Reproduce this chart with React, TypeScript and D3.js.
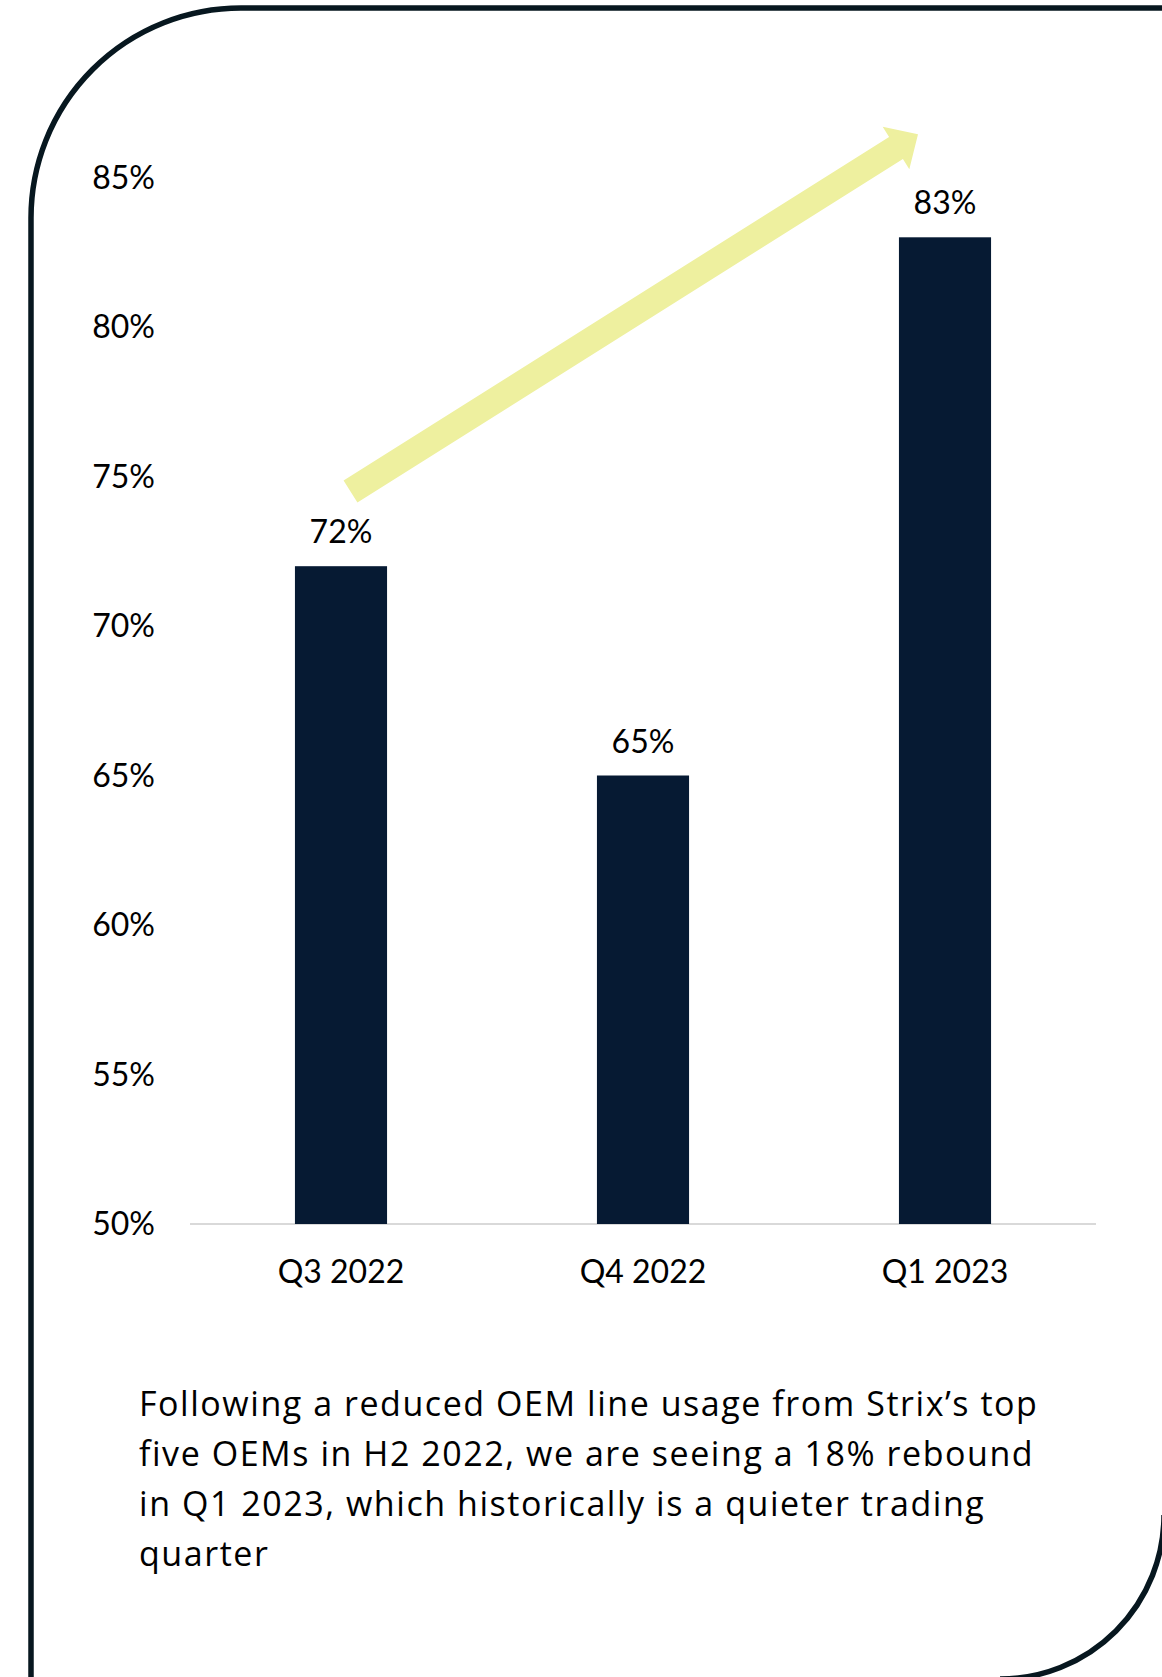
import React from 'react';
import * as d3 from 'd3';

const categories = ['Q3 2022', 'Q4 2022', 'Q1 2023'];
const values = [72, 65, 83];
const yTicks = [50, 55, 60, 65, 70, 75, 80, 85];
const captionLines = [
  'Following a reduced OEM line usage from Strix\u2019s top',
  'five OEMs in H2 2022, we are seeing a 18% rebound',
  'in Q1 2023, which historically is a quieter trading',
  'quarter',
];
// trend arrow annotation: from Q3 2022 to Q1 2023 (value-space anchors)
const arrowFrom = { cat: 'Q3 2022', dx: 9.5, value: 74.5 };
const arrowTo = { cat: 'Q1 2023', dx: -27, value: 86.45 };

const FONT = 'Lato, "Open Sans", sans-serif';
const CAPTION_FONT = '"Open Sans", Lato, sans-serif';

export default function App() {
  const W = 1162;
  const H = 1677;
  const x = d3.scaleBand<string>().domain(categories).range([190, 1096]).padding(0);
  const y = d3.scaleLinear().domain([50, 85]).range([1224, 177.5]);
  const barW = x.bandwidth() * 0.305;
  const cx = (c: string) => (x(c) as number) + x.bandwidth() / 2;

  // arrow geometry
  const T = [cx(arrowFrom.cat) + arrowFrom.dx, y(arrowFrom.value)];
  const P = [cx(arrowTo.cat) + arrowTo.dx, y(arrowTo.value)];
  const len = Math.hypot(P[0] - T[0], P[1] - T[1]);
  const u = [(P[0] - T[0]) / len, (P[1] - T[1]) / len];
  const n = [-u[1], u[0]];
  const sw = 13, hw = 25, hl = 26;
  const B = [P[0] - u[0] * hl, P[1] - u[1] * hl];
  const pt = (b: number[], k: number) => [b[0] + n[0] * k, b[1] + n[1] * k];
  const arrowPts = [pt(T, sw), pt(B, sw), pt(B, hw), P, pt(B, -hw), pt(B, -sw), pt(T, -sw)];
  const arrowPath = d3.line()(arrowPts as [number, number][]) + 'Z';

  const r1 = 210;
  const L = 31, Tp = 8;
  const borderTL = `M${L},${H + 20} L${L},${Tp + r1} A${r1},${r1} 0 0 1 ${L + r1},${Tp} L${W + 20},${Tp}`;
  const r2 = 164;
  const c2 = [1000, 1515];
  const borderBR = `M${c2[0] + r2},${c2[1]} A${r2},${r2} 0 0 1 ${c2[0]},${c2[1] + r2}`;

  return (
    <svg
      width={W}
      height={H}
      viewBox={`0 0 ${W} ${H}`}
      style={{ position: 'absolute', left: 0, top: 0, background: '#fff' }}
    >
      <rect width={W} height={H} fill="#fff" />
      <path d={borderTL} fill="none" stroke="#07171f" strokeWidth={5.5} />
      <path d={borderBR} fill="none" stroke="#07171f" strokeWidth={5.5} />

      {/* y tick labels */}
      {yTicks.map((t) => (
        <text
          key={t}
          x={155}
          y={y(t) + 11}
          textAnchor="end"
          fontFamily={FONT}
          fontSize={32}
          fill="#000"
        >
          {`${t}%`}
        </text>
      ))}

      {/* baseline */}
      <line x1={190} x2={1096} y1={y(50)} y2={y(50)} stroke="#d9d9d9" strokeWidth={2} />

      {/* bars */}
      {categories.map((c, i) => (
        <g key={c}>
          <rect
            x={cx(c) - barW / 2}
            y={y(values[i])}
            width={barW}
            height={y(50) - y(values[i])}
            fill="#061a33"
          />
          <text
            x={cx(c)}
            y={y(values[i]) - 23}
            textAnchor="middle"
            fontFamily={FONT}
            fontSize={32}
            fill="#000"
          >
            {`${values[i]}%`}
          </text>
          <text
            x={cx(c)}
            y={y(50) + 59}
            textAnchor="middle"
            fontFamily={FONT}
            fontSize={32}
            fill="#000"
          >
            {c}
          </text>
        </g>
      ))}

      {/* trend arrow */}
      <path d={arrowPath} fill="#eef09f" />

      {/* caption */}
      {captionLines.map((line, i) => (
        <text
          key={i}
          x={139}
          y={1416 + i * 50}
          fontFamily={CAPTION_FONT}
          fontSize={34}
          letterSpacing={1.55}
          fill="#000"
        >
          {line}
        </text>
      ))}
    </svg>
  );
}
